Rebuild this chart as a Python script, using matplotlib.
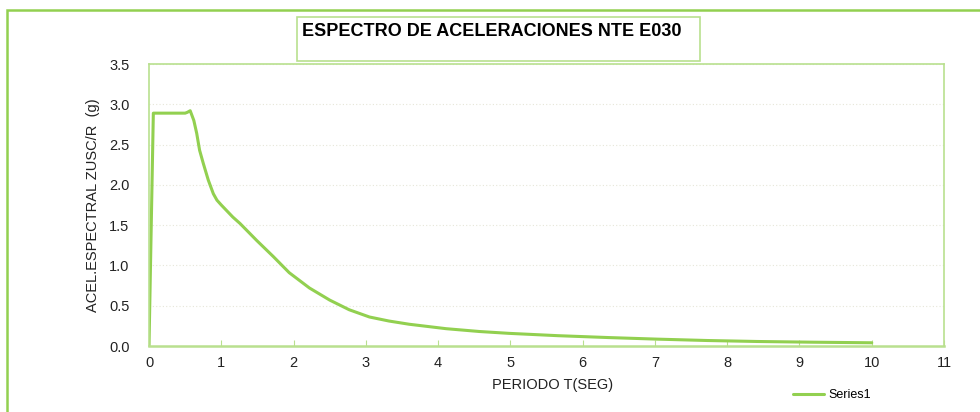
import matplotlib.pyplot as plt
from matplotlib.patches import Rectangle

plt.rcParams['font.family'] = ['Liberation Sans', 'DejaVu Sans']

# periodo T (s) y aceleracion espectral ZUSC/R (g)
periodo = [0, 0.06, 0.50, 0.53, 0.57, 0.62, 0.66, 0.70, 0.75, 0.82, 0.89, 0.94,
           1.00, 1.16, 1.26, 1.49, 1.72, 1.94, 2.22, 2.50, 2.77, 3.05, 3.32,
           3.60, 4.11, 4.57, 4.98, 5.66, 6.35, 7.04, 7.73, 8.42, 9.20, 10.0]
acel = [0, 2.89, 2.89, 2.90, 2.92, 2.80, 2.64, 2.43, 2.27, 2.06, 1.89, 1.81,
        1.75, 1.60, 1.52, 1.31, 1.11, 0.91, 0.72, 0.57, 0.45, 0.36, 0.31,
        0.27, 0.215, 0.18, 0.157, 0.128, 0.105, 0.085, 0.068, 0.056, 0.047, 0.04]

x_ticks = list(range(0, 12))
y_ticks = [0.0, 0.5, 1.0, 1.5, 2.0, 2.5, 3.0, 3.5]

verde = '#92D050'
verde_claro = '#B9E08F'

fig = plt.figure(figsize=(9.8, 4.12), dpi=100)
ax = fig.add_axes([149 / 980, 66 / 412, 795 / 980, 282 / 412])

ax.plot(periodo, acel, color=verde, lw=2.2, label='Series1',
        solid_joinstyle='round', solid_capstyle='round')

ax.set_xlim(0, 11)
ax.set_ylim(0, 3.5)
ax.set_xticks(x_ticks)
ax.set_yticks(y_ticks)
ax.set_yticklabels(['%.1f' % v for v in y_ticks])
ax.grid(axis='y', color='#E6E6D8', lw=0.8, ls=(0, (1, 2)))
ax.set_axisbelow(True)

for s in ax.spines.values():
    s.set_color(verde_claro)
    s.set_linewidth(1.2)
ax.spines['bottom'].set_linewidth(1.8)

ax.tick_params(axis='x', direction='in', length=4, color=verde_claro,
               labelsize=10.5, pad=7, labelcolor='#222222')
ax.tick_params(axis='y', length=0, labelsize=10.5, pad=14, labelcolor='#222222')

ax.set_xlabel('PERIODO T(SEG)', fontsize=10.5, color='#222222')
ax.xaxis.set_label_coords(0.508, -0.115)
ax.set_ylabel('ACEL.ESPECTRAL ZUSC/R  (g)', fontsize=10.5, color='#222222')
ax.yaxis.set_label_coords(-0.062, 0.5)

# recuadro exterior del grafico
fig.patches.append(Rectangle((7, -10), 1000, 412, transform=None,
                             fill=False, ec=verde, lw=1.8, clip_on=False))

# titulo dentro de su caja
fig.patches.append(Rectangle((297, 412 - 61), 403, 44, transform=None,
                             fill=False, ec=verde_claro, lw=1.2))
fig.text(302 / 980, (412 - 31) / 412, 'ESPECTRO DE ACELERACIONES NTE E030',
         fontsize=13, fontweight='bold', ha='left', va='center', color='black')

ax.legend(loc='center', bbox_to_anchor=(832 / 980, 17 / 412),
          bbox_transform=fig.transFigure, frameon=False, fontsize=9,
          handlelength=2.5, handletextpad=0.3)

fig.savefig('out.png', dpi=100)
